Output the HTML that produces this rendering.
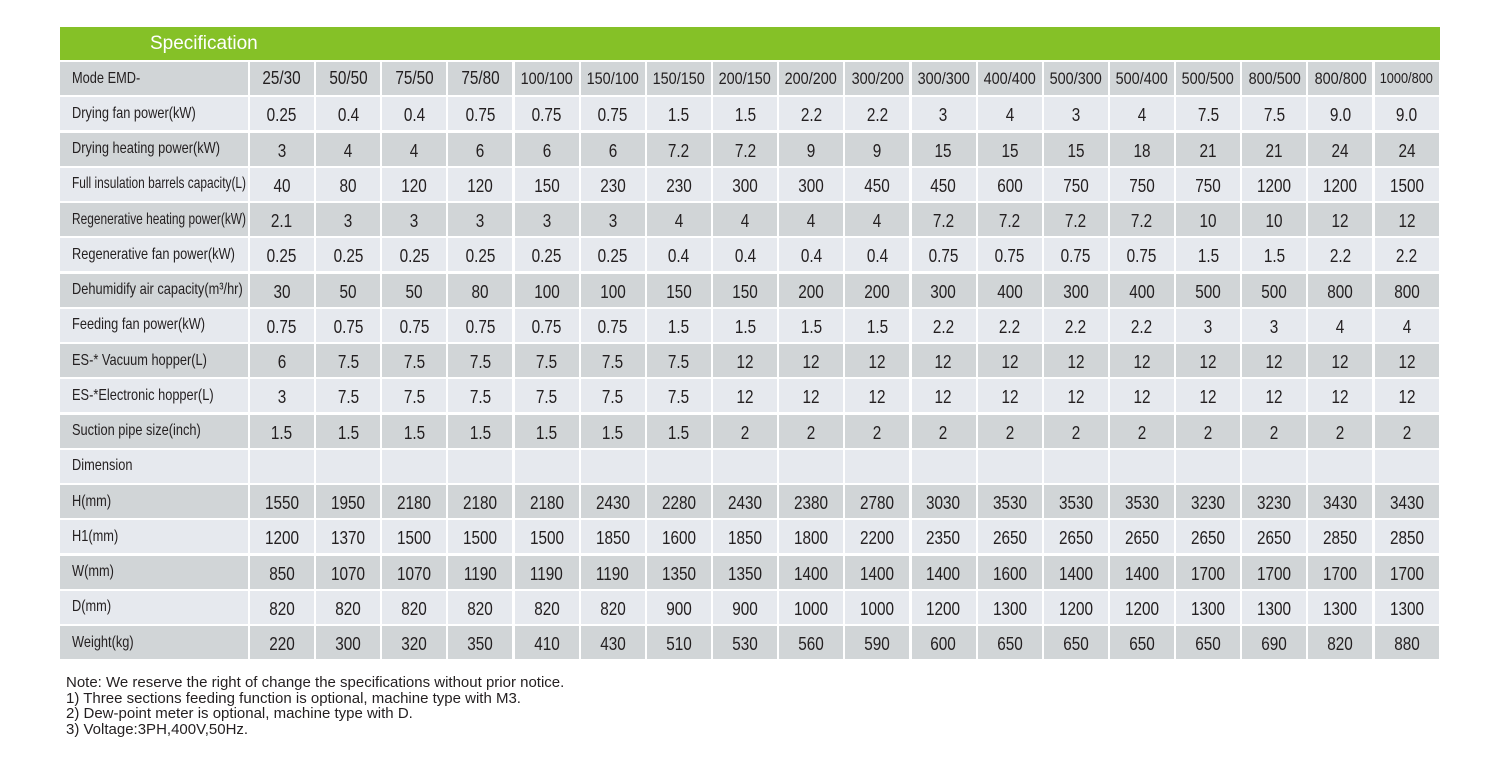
<!DOCTYPE html>
<html><head><meta charset="utf-8"><style>
body{margin:0;width:1486px;height:760px;background:#fff;position:relative;overflow:hidden;font-family:"Liberation Sans",sans-serif;}
#hdr{position:absolute;left:60px;top:27px;width:1380px;height:33px;background:#85c127;color:#fff;font-size:19px;line-height:33px;}
#hdr span{position:absolute;left:90px;top:0}
.c{position:absolute;display:flex;align-items:center;justify-content:center;color:#231f20;font-size:18px;box-sizing:border-box;padding-top:4px;white-space:nowrap}
.c span{display:inline-block;transform:scaleX(0.85)}
.l{justify-content:flex-start;padding-left:12px;padding-top:0;font-size:16px}
.l span{transform-origin:left}
#notes{position:absolute;left:66px;top:675px;font-size:15px;line-height:15.5px;color:#231f20}
</style></head><body>
<div id="hdr"><span>Specification</span></div>
<div id="tbl"></div>
<div id="notes">Note: We reserve the right of change the specifications without prior notice.<br>1) Three sections feeding function is optional, machine type with M3.<br>2) Dew-point meter is optional, machine type with D.<br>3) Voltage:3PH,400V,50Hz.</div>
<script>
const labels=["Mode EMD-","Drying fan power(kW)","Drying heating power(kW)","Full insulation barrels capacity(L)","Regenerative heating power(kW)","Regenerative fan power(kW)","Dehumidify air capacity(m³/hr)","Feeding fan power(kW)","ES-* Vacuum hopper(L)","ES-*Electronic hopper(L)","Suction pipe size(inch)","Dimension","H(mm)","H1(mm)","W(mm)","D(mm)","Weight(kg)"];
const models=["25/30","50/50","75/50","75/80","100/100","150/100","150/150","200/150","200/200","300/200","300/300","400/400","500/300","500/400","500/500","800/500","800/800","1000/800"];
const dryFan=["0.25","0.4","0.4","0.75","0.75","0.75","1.5","1.5","2.2","2.2","3","4","3","4","7.5","7.5","9.0","9.0"];
const dryHeat=["3","4","4","6","6","6","7.2","7.2","9","9","15","15","15","18","21","21","24","24"];
const barrel=["40","80","120","120","150","230","230","300","300","450","450","600","750","750","750","1200","1200","1500"];
const regHeat=["2.1","3","3","3","3","3","4","4","4","4","7.2","7.2","7.2","7.2","10","10","12","12"];
const regFan=["0.25","0.25","0.25","0.25","0.25","0.25","0.4","0.4","0.4","0.4","0.75","0.75","0.75","0.75","1.5","1.5","2.2","2.2"];
const air=["30","50","50","80","100","100","150","150","200","200","300","400","300","400","500","500","800","800"];
const feedFan=["0.75","0.75","0.75","0.75","0.75","0.75","1.5","1.5","1.5","1.5","2.2","2.2","2.2","2.2","3","3","4","4"];
const vac=["6","7.5","7.5","7.5","7.5","7.5","7.5","12","12","12","12","12","12","12","12","12","12","12"];
const elec=["3","7.5","7.5","7.5","7.5","7.5","7.5","12","12","12","12","12","12","12","12","12","12","12"];
const pipe=["1.5","1.5","1.5","1.5","1.5","1.5","1.5","2","2","2","2","2","2","2","2","2","2","2"];
const dim=["","","","","","","","","","","","","","","","","",""];
const H=["1550","1950","2180","2180","2180","2430","2280","2430","2380","2780","3030","3530","3530","3530","3230","3230","3430","3430"];
const H1=["1200","1370","1500","1500","1500","1850","1600","1850","1800","2200","2350","2650","2650","2650","2650","2650","2850","2850"];
const W=["850","1070","1070","1190","1190","1190","1350","1350","1400","1400","1400","1600","1400","1400","1700","1700","1700","1700"];
const D=["820","820","820","820","820","820","900","900","1000","1000","1200","1300","1200","1200","1300","1300","1300","1300"];
const weight=["220","300","320","350","410","430","510","530","560","590","600","650","650","650","650","690","820","880"];
const rows=[models,dryFan,dryHeat,barrel,regHeat,regFan,air,feedFan,vac,elec,pipe,dim,H,H1,W,D,weight];
const tbl=document.getElementById('tbl');
const top0=62,pitch=35.25,rh=33;
rows.forEach((vals,r)=>{
  const bg=r%2===0?'#d1d5d7':'#e6e9ee';
  const y=top0+r*pitch;
  const lc=document.createElement('div');
  lc.className='c l';
  
  
  lc.style.cssText=`left:60px;top:${y}px;width:188px;height:${rh}px;background:${bg}`;
  const sp=document.createElement('span');
  sp.textContent=labels[r];
  lc.appendChild(sp);
  tbl.appendChild(lc);
  const w=sp.getBoundingClientRect().width/0.85;
  const s=Math.min(0.8,174/w);
  sp.style.transform='scaleX('+s+')';
  vals.forEach((v,i)=>{
    const c=document.createElement('div');
    c.className='c';
    
    
    const x=250+i*66.15;
    c.style.cssText=`left:${x}px;top:${y}px;width:64px;height:${rh}px;background:${bg}`+(r===0?';padding-top:0':'');
    const fs=(v.length>=8)?'15px':(v.length>=7?'17px':'18px');
    c.innerHTML='<span style="font-size:'+fs+'">'+v+'</span>';
    tbl.appendChild(c);
  });
});
</script>
</body></html>
